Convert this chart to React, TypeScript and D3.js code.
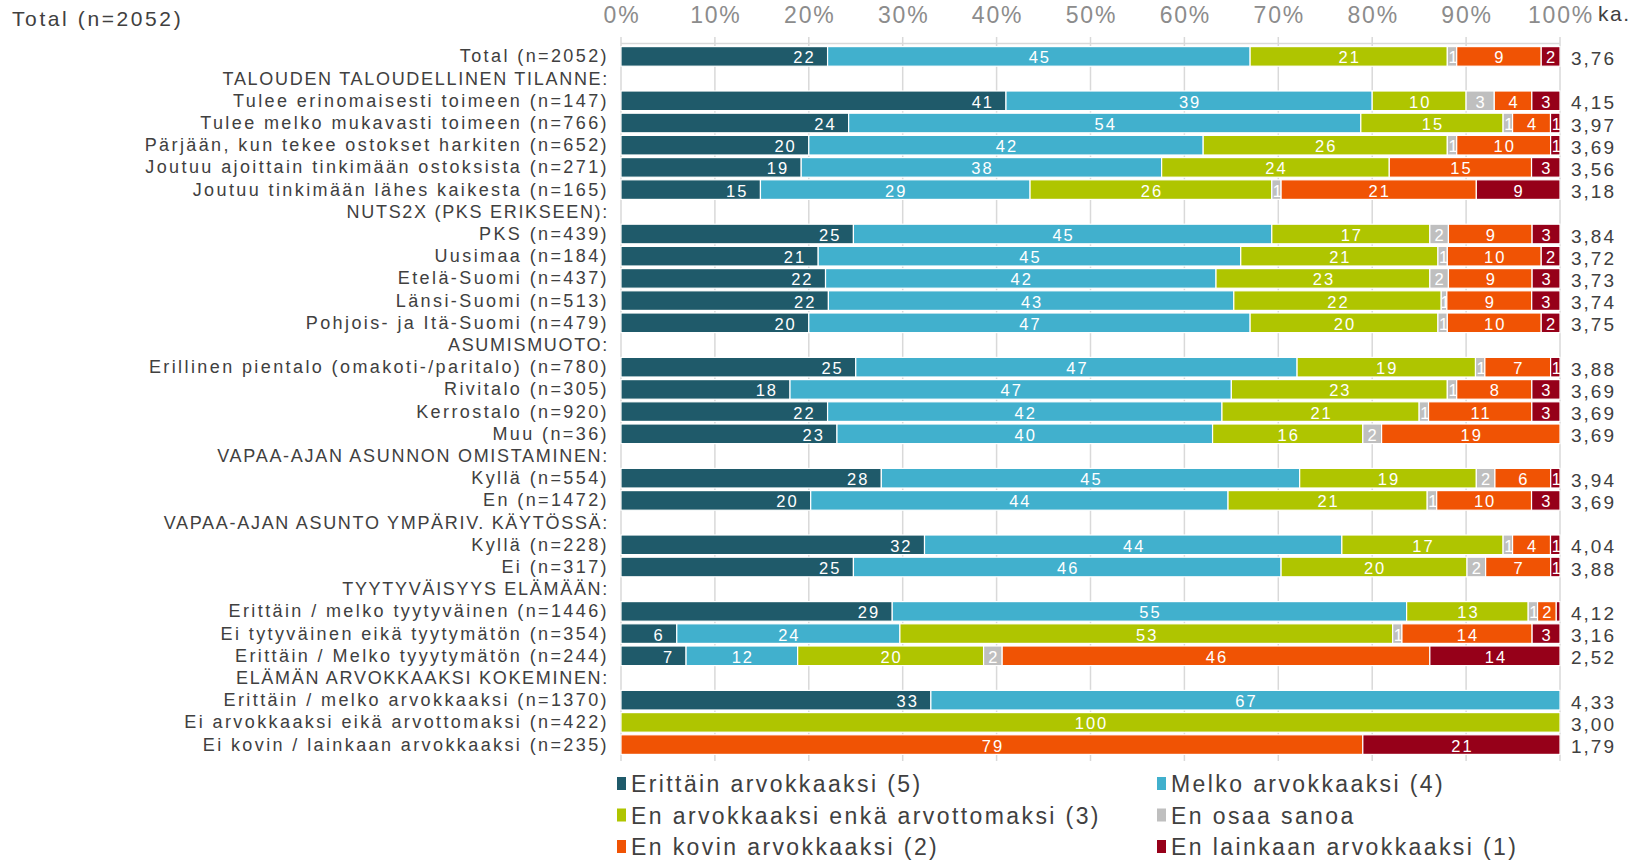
import React from "react";
import * as d3 from "d3";

// rows of the chart, in order; headers have no values
const rowLabels = [
  "Total (n=2052)",
  "TALOUDEN TALOUDELLINEN TILANNE:",
  "Tulee erinomaisesti toimeen (n=147)",
  "Tulee melko mukavasti toimeen (n=766)",
  "Pärjään, kun tekee ostokset harkiten (n=652)",
  "Joutuu ajoittain tinkimään ostoksista (n=271)",
  "Joutuu tinkimään lähes kaikesta (n=165)",
  "NUTS2X (PKS ERIKSEEN):",
  "PKS (n=439)",
  "Uusimaa (n=184)",
  "Etelä-Suomi (n=437)",
  "Länsi-Suomi (n=513)",
  "Pohjois- ja Itä-Suomi (n=479)",
  "ASUMISMUOTO:",
  "Erillinen pientalo (omakoti-/paritalo) (n=780)",
  "Rivitalo (n=305)",
  "Kerrostalo (n=920)",
  "Muu (n=36)",
  "VAPAA-AJAN ASUNNON OMISTAMINEN:",
  "Kyllä (n=554)",
  "En (n=1472)",
  "VAPAA-AJAN ASUNTO YMPÄRIV. KÄYTÖSSÄ:",
  "Kyllä (n=228)",
  "Ei (n=317)",
  "TYYTYVÄISYYS ELÄMÄÄN:",
  "Erittäin / melko tyytyväinen (n=1446)",
  "Ei tytyväinen eikä tyytymätön (n=354)",
  "Erittäin / Melko tyyytymätön (n=244)",
  "ELÄMÄN ARVOKKAAKSI KOKEMINEN:",
  "Erittäin / melko arvokkaaksi (n=1370)",
  "Ei arvokkaaksi eikä arvottomaksi (n=422)",
  "Ei kovin / lainkaan arvokkaaksi (n=235)",
];

const seriesNames = [
  "Erittäin arvokkaaksi (5)",
  "Melko arvokkaaksi (4)",
  "En arvokkaaksi enkä arvottomaksi (3)",
  "En osaa sanoa",
  "En kovin arvokkaaksi (2)",
  "En lainkaan arvokkaaksi (1)",
];
const colors = ["#1f5a6a", "#41b0cd", "#afc500", "#bfbfbf", "#f05304", "#960019"];

// one array per series, null for header rows
const erittain = [22, null, 41, 24, 20, 19, 15, null, 25, 21, 22, 22, 20, null, 25, 18, 22, 23, null, 28, 20, null, 32, 25, null, 29, 6, 7, null, 33, 0, 0];
const melko = [45, null, 39, 54, 42, 38, 29, null, 45, 45, 42, 43, 47, null, 47, 47, 42, 40, null, 45, 44, null, 44, 46, null, 55, 24, 12, null, 67, 0, 0];
const enEnka = [21, null, 10, 15, 26, 24, 26, null, 17, 21, 23, 22, 20, null, 19, 23, 21, 16, null, 19, 21, null, 17, 20, null, 13, 53, 20, null, 0, 100, 0];
const eos = [1, null, 3, 1, 1, 0, 1, null, 2, 1, 2, 0.6, 1, null, 1, 1, 1, 2, null, 2, 1, null, 1, 2, null, 1, 1, 2, null, 0, 0, 0];
const enKovin = [9, null, 4, 4, 10, 15, 21, null, 9, 10, 9, 9, 10, null, 7, 8, 11, 19, null, 6, 10, null, 4, 7, null, 2, 14, 46, null, 0, 0, 79];
const enLainkaan = [2, null, 3, 1, 1, 3, 9, null, 3, 2, 3, 3, 2, null, 1, 3, 3, 0, null, 1, 3, null, 1, 1, null, 0.4, 3, 14, null, 0, 0, 21];
const means = ["3,76", "", "4,15", "3,97", "3,69", "3,56", "3,18", "", "3,84", "3,72", "3,73", "3,74", "3,75", "", "3,88", "3,69", "3,69", "3,69", "", "3,94", "3,69", "", "4,04", "3,88", "", "4,12", "3,16", "2,52", "", "4,33", "3,00", "1,79"];

const ticks = [0, 10, 20, 30, 40, 50, 60, 70, 80, 90, 100];

const W = 1634;
const H = 861;
const FONT = "'Liberation Sans', Arial, sans-serif";

export default function App() {
  const x = d3.scaleLinear().domain([0, 100]).range([621, 1560]);
  const y = d3
    .scaleBand<number>()
    .domain(rowLabels.map((_, i) => i))
    .range([45.3, 755.7])
    .padding(0);
  const bw = y.bandwidth();

  const series = [erittain, melko, enEnka, eos, enKovin, enLainkaan];

  const rows = rowLabels.map((label, i) => {
    const vals = series.map((s) => s[i]);
    if (vals[0] === null) return { label, i, header: true, segs: [] as any[] };
    const total = d3.sum(vals as number[]);
    let acc = 0;
    const segs = (vals as number[]).map((v, k) => {
      const x0 = (acc / total) * 100;
      acc += v;
      const x1 = (acc / total) * 100;
      return { k, v, x0, x1 };
    });
    return { label, i, header: false, segs };
  });

  return (
    <svg
      width={W}
      height={H}
      style={{ position: "absolute", left: 0, top: 0, background: "#fff" }}
      fontFamily={FONT}
    >
      <text x={12} y={26} fontSize={21} fill="#404040" letterSpacing={2.6}>
        Total (n=2052)
      </text>

      {/* axis labels */}
      {ticks.map((t) => (
        <text
          key={"t" + t}
          x={x(t) + 1}
          y={23}
          fontSize={23}
          fill="#8c8c8c"
          textAnchor="middle"
          letterSpacing={1.8}
        >
          {t}%
        </text>
      ))}
      <text x={1598} y={21} fontSize={21} fill="#404040" letterSpacing={1.5}>
        ka.
      </text>

      {/* grid */}
      <line x1={x(0)} x2={x(100)} y1={43.5} y2={43.5} stroke="#d9d9d9" strokeWidth={1.5} />
      {ticks.map((t) => (
        <line
          key={"g" + t}
          x1={x(t)}
          x2={x(t)}
          y1={37}
          y2={761}
          stroke="#d9d9d9"
          strokeWidth={1.5}
        />
      ))}

      {rows.map((r) => {
        const top = y(r.i) as number;
        const cy = top + bw / 2;
        return (
          <g key={r.i}>
            <text
              x={609}
              y={cy + 6}
              fontSize={18}
              fill="#404040"
              textAnchor="end"
              letterSpacing={r.header ? 1.7 : 2.4}
            >
              {r.label}
            </text>
            {r.segs.map((s) =>
              s.v > 0 ? (
                <g key={s.k}>
                  <rect
                    x={x(s.x0)}
                    y={top + 1.3}
                    width={x(s.x1) - x(s.x0)}
                    height={bw - 2.6}
                    fill={colors[s.k]}
                    stroke="#fff"
                    strokeWidth={1.2}
                  />
                  {s.v >= 0.5 ? (
                    <text
                      x={s.k === 0 ? x(s.x1) - 12 : (x(s.x0) + x(s.x1)) / 2 + 1}
                      y={cy + 7}
                      fontSize={16.5}
                      fill="#fff"
                      textAnchor={s.k === 0 ? "end" : "middle"}
                      letterSpacing={s.v < 2 ? 0 : 2}
                    >
                      {Math.round(s.v)}
                    </text>
                  ) : null}
                </g>
              ) : null
            )}
            {!r.header ? (
              <text x={1571} y={cy + 8.5} fontSize={19} fill="#404040" letterSpacing={2}>
                {means[r.i]}
              </text>
            ) : null}
          </g>
        );
      })}

      {/* legend */}
      {seriesNames.map((name, k) => {
        const col = k % 2;
        const row = Math.floor(k / 2);
        const lx = col === 0 ? 617 : 1157;
        const ly = 784 + row * 31.5;
        return (
          <g key={name}>
            <rect x={lx} y={ly - 7} width={9} height={13} fill={colors[k]} />
            <text x={lx + 14} y={ly + 8} fontSize={23} fill="#404040" letterSpacing={2.4}>
              {name}
            </text>
          </g>
        );
      })}
    </svg>
  );
}
